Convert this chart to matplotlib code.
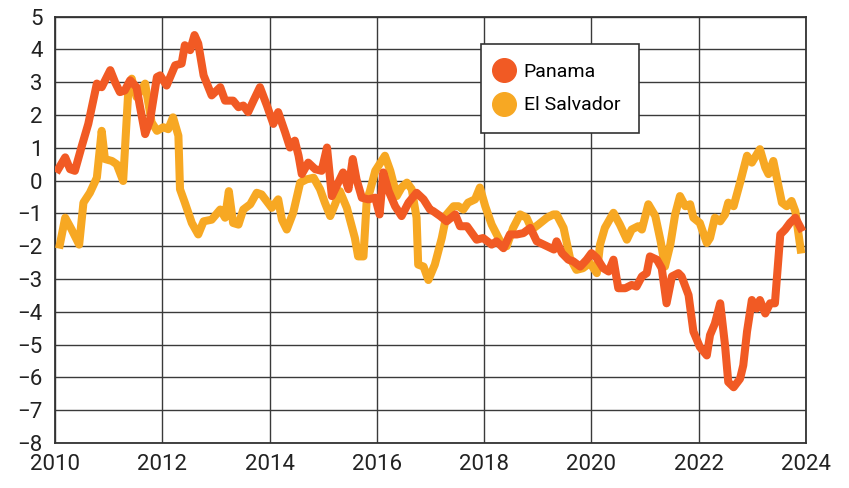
import matplotlib.pyplot as plt
from matplotlib.lines import Line2D

plt.rcParams['font.family'] = ['Roboto', 'DejaVu Sans']

# Panama: (decimal year, value)
panama_x = [2010.06, 2010.19, 2010.28, 2010.37, 2010.5, 2010.62, 2010.78, 2010.87, 2011.03, 2011.12,
            2011.21, 2011.3, 2011.4, 2011.52, 2011.58, 2011.68, 2011.77, 2011.9, 2011.96, 2012.08,
            2012.24, 2012.36, 2012.42, 2012.52, 2012.6, 2012.67, 2012.77, 2012.92, 2013.08, 2013.17,
            2013.32, 2013.42, 2013.51, 2013.6, 2013.7, 2013.82, 2013.95, 2014.07, 2014.16, 2014.29,
            2014.38, 2014.47, 2014.54, 2014.6, 2014.72, 2014.85, 2014.97, 2015.07, 2015.16, 2015.28,
            2015.37, 2015.47, 2015.55, 2015.62, 2015.72, 2015.84, 2015.97, 2016.05, 2016.12, 2016.22,
            2016.34, 2016.46, 2016.59, 2016.74, 2016.87, 2016.99, 2017.05, 2017.18, 2017.3, 2017.46,
            2017.55, 2017.68, 2017.86, 2017.98, 2018.14, 2018.23, 2018.36, 2018.48, 2018.61, 2018.73,
            2018.86, 2018.98, 2019.17, 2019.3, 2019.35, 2019.45, 2019.57, 2019.66, 2019.79, 2019.91,
            2020.0, 2020.1, 2020.22, 2020.32, 2020.41, 2020.5, 2020.63, 2020.75, 2020.84, 2020.94,
            2021.03, 2021.09, 2021.22, 2021.31, 2021.4, 2021.5, 2021.62, 2021.68, 2021.81, 2021.9,
            2022.02, 2022.15, 2022.21, 2022.3, 2022.4, 2022.49, 2022.55, 2022.65, 2022.77, 2022.83,
            2022.9, 2022.99, 2023.08, 2023.14, 2023.24, 2023.33, 2023.42, 2023.52, 2023.61, 2023.7,
            2023.8, 2023.9]
panama_y = [0.35, 0.71, 0.35, 0.3, 1.06, 1.73, 2.96, 2.85, 3.37, 3.0,
            2.7, 2.75, 3.06, 2.85, 2.29, 1.42, 1.83, 3.16, 3.21, 2.9,
            3.52, 3.57, 4.13, 3.98, 4.44, 4.18, 3.21, 2.6, 2.85, 2.44,
            2.44, 2.24, 2.29, 2.09, 2.44, 2.85, 2.29, 1.73, 2.09, 1.47,
            1.01, 1.22, 0.76, 0.2, 0.55, 0.35, 0.3, 1.01, -0.47, -0.06,
            0.25, -0.26, 0.66, 0.04, -0.52, -0.57, -0.52, -1.03, 0.25, -0.32,
            -0.78, -1.08, -0.67, -0.37, -0.57, -0.88, -0.93, -1.08, -1.24, -1.03,
            -1.39, -1.39, -1.8, -1.75, -1.95, -1.85, -2.06, -1.64, -1.64, -1.6,
            -1.44, -1.85, -2.0, -2.1, -1.85, -2.21, -2.41, -2.46, -2.62, -2.41,
            -2.21, -2.36, -2.67, -2.77, -2.41, -3.28, -3.28, -3.18, -3.23, -2.92,
            -2.82, -2.31, -2.41, -2.67, -3.74, -2.92, -2.82, -2.92, -3.49, -4.6,
            -5.07, -5.33, -4.71, -4.36, -3.74, -5.02, -6.14, -6.3, -6.04, -5.63,
            -4.6, -3.64, -3.9, -3.64, -4.05, -3.74, -3.74, -1.64, -1.49, -1.29,
            -1.13, -1.44]

# El Salvador
salvador_x = [2010.09, 2010.19, 2010.31, 2010.45, 2010.53, 2010.65, 2010.78, 2010.87, 2010.93, 2011.06,
              2011.15, 2011.27, 2011.37, 2011.43, 2011.52, 2011.68, 2011.8, 2011.9, 2012.02, 2012.11,
              2012.2, 2012.3, 2012.33, 2012.42, 2012.55, 2012.67, 2012.77, 2012.92, 2013.08, 2013.17,
              2013.24, 2013.32, 2013.42, 2013.51, 2013.64, 2013.76, 2013.85, 2014.04, 2014.16, 2014.23,
              2014.32, 2014.44, 2014.57, 2014.69, 2014.82, 2014.94, 2015.03, 2015.13, 2015.22, 2015.31,
              2015.44, 2015.59, 2015.65, 2015.75, 2015.81, 2015.87, 2015.97, 2016.15, 2016.25, 2016.37,
              2016.46, 2016.56, 2016.65, 2016.74, 2016.77, 2016.87, 2016.96, 2017.08, 2017.21, 2017.3,
              2017.43, 2017.52, 2017.61, 2017.7, 2017.83, 2017.92, 2018.02, 2018.14, 2018.3, 2018.42,
              2018.54, 2018.67, 2018.79, 2018.89, 2019.01, 2019.17, 2019.29, 2019.35, 2019.48, 2019.6,
              2019.72, 2019.84, 2019.97, 2020.1, 2020.16, 2020.25, 2020.41, 2020.53, 2020.66, 2020.75,
              2020.87, 2020.94, 2021.06, 2021.19, 2021.29, 2021.37, 2021.47, 2021.56, 2021.65, 2021.75,
              2021.84, 2021.9, 2022.02, 2022.15, 2022.21, 2022.3, 2022.4, 2022.49, 2022.55, 2022.65,
              2022.77, 2022.9, 2022.99, 2023.14, 2023.24, 2023.3, 2023.39, 2023.55, 2023.64, 2023.73,
              2023.8, 2023.9]
salvador_y = [-1.95, -1.13, -1.49, -1.95, -0.67, -0.37, 0.09, 1.52, 0.66, 0.6,
              0.5, -0.01, 2.85, 3.11, 2.55, 2.96, 1.78, 1.52, 1.63, 1.57,
              1.93, 1.37, -0.26, -0.67, -1.29, -1.64, -1.24, -1.19, -0.88, -1.13,
              -0.32, -1.29, -1.34, -0.88, -0.72, -0.37, -0.42, -0.83, -0.57, -1.19,
              -1.49, -0.98, -0.06, 0.04, 0.09, -0.26, -0.67, -1.08, -0.72, -0.32,
              -0.83, -1.75, -2.31, -2.31, -0.62, -0.32, 0.3, 0.76, 0.3, -0.47,
              -0.21, -0.06, -0.26, -1.13, -2.56, -2.62, -3.03, -2.56, -1.75, -1.03,
              -0.78, -0.78, -0.88, -0.67, -0.57, -0.21, -0.78, -1.34, -1.85, -2.0,
              -1.44, -1.03, -1.13, -1.49, -1.34, -1.13, -1.03, -1.03, -1.44, -2.36,
              -2.72, -2.67, -2.51, -2.82, -1.95, -1.44, -0.98, -1.34, -1.8, -1.49,
              -1.39, -1.49, -0.72, -1.08, -1.85, -2.62, -1.95, -1.03, -0.47, -0.78,
              -0.72, -1.13, -1.29, -1.9, -1.75, -1.13, -1.24, -1.03, -0.67, -0.78,
              -0.06, 0.76, 0.55, 0.96, 0.4, 0.2, 0.6, -0.67, -0.78, -0.62,
              -0.93, -2.1]

labels = ["Panama", "El Salvador"]
colors = ["#F15A24", "#F7A823"]
x_ticks = list(range(2010, 2025, 2))
y_ticks = list(range(-8, 6))

fig = plt.figure(figsize=(8.49, 4.88), dpi=100)
ax = fig.add_axes([0.0648, 0.0922, 0.8846, 0.8736])

ax.plot(salvador_x, salvador_y, color=colors[1], lw=5.8, solid_joinstyle='round', zorder=3)
ax.plot(panama_x, panama_y, color=colors[0], lw=5.8, solid_joinstyle='round', zorder=4)

ax.set_xlim(2010, 2024)
ax.set_ylim(-8, 5)
ax.set_xticks(x_ticks)
ax.set_yticks(y_ticks)
ax.grid(True, color="#3a3a3a", lw=1)
ax.set_axisbelow(True)
for s in ax.spines.values():
    s.set_color("#333333")
    s.set_linewidth(1.3)
ax.tick_params(length=0, labelsize=16, colors="#222222")
ax.tick_params(axis='y', pad=9)
ax.tick_params(axis='x', pad=8)

handles = [Line2D([], [], marker='o', ls='none', ms=17, color=c) for c in colors]
leg = ax.legend(handles, labels, loc='upper left', bbox_to_anchor=(0.567, 0.935),
                borderaxespad=0, fontsize=14, frameon=True, fancybox=False,
                handletextpad=0.75, labelspacing=0.8, borderpad=0.95, handlelength=0.5)
leg.get_frame().set_edgecolor("#333333")
leg.get_frame().set_linewidth(1.2)
leg.get_frame().set_alpha(1)
leg.set_zorder(5)

fig.savefig("out.png", dpi=100)
